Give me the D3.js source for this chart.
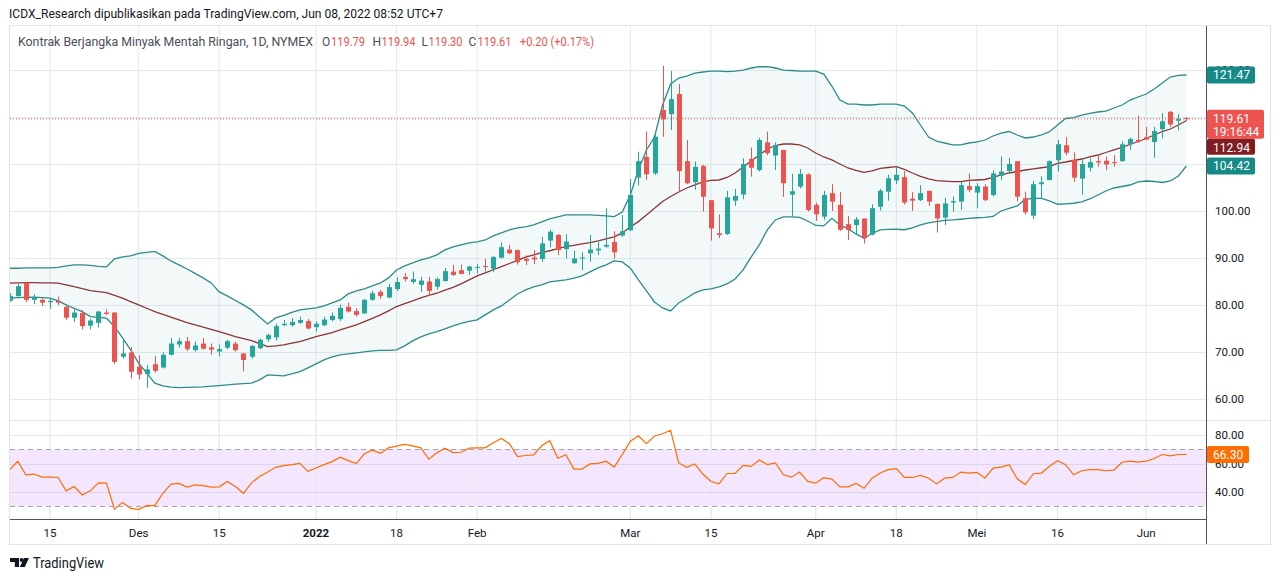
<!DOCTYPE html>
<html>
<head>
<meta charset="utf-8">
<script src="https://cdn.jsdelivr.net/npm/d3@7"></script>
<style>
  body { margin: 0; background: #ffffff; }
  svg { display: block; font-family: Roboto, "Trebuchet MS", sans-serif; }
</style>
</head>
<body>
<div id="chart"></div>
<script>
// Trading days shown on the chart (CL1!, daily)
const dates = [
  "2021-11-08","2021-11-09","2021-11-10","2021-11-11","2021-11-12","2021-11-15","2021-11-16","2021-11-17","2021-11-18","2021-11-19",
  "2021-11-22","2021-11-23","2021-11-24","2021-11-26","2021-11-29","2021-11-30",
  "2021-12-01","2021-12-02","2021-12-03","2021-12-06","2021-12-07","2021-12-08","2021-12-09","2021-12-10","2021-12-13","2021-12-14",
  "2021-12-15","2021-12-16","2021-12-17","2021-12-20","2021-12-21","2021-12-22","2021-12-23","2021-12-27","2021-12-28","2021-12-29",
  "2021-12-30","2021-12-31",
  "2022-01-03","2022-01-04","2022-01-05","2022-01-06","2022-01-07","2022-01-10","2022-01-11","2022-01-12","2022-01-13","2022-01-14",
  "2022-01-18","2022-01-19","2022-01-20","2022-01-21","2022-01-24","2022-01-25","2022-01-26","2022-01-27","2022-01-28","2022-01-31",
  "2022-02-01","2022-02-02","2022-02-03","2022-02-04","2022-02-07","2022-02-08","2022-02-09","2022-02-10","2022-02-11","2022-02-14",
  "2022-02-15","2022-02-16","2022-02-17","2022-02-18","2022-02-22","2022-02-23","2022-02-24","2022-02-25","2022-02-28",
  "2022-03-01","2022-03-02","2022-03-03","2022-03-04","2022-03-07","2022-03-08","2022-03-09","2022-03-10","2022-03-11","2022-03-14",
  "2022-03-15","2022-03-16","2022-03-17","2022-03-18","2022-03-21","2022-03-22","2022-03-23","2022-03-24","2022-03-25","2022-03-28",
  "2022-03-29","2022-03-30","2022-03-31",
  "2022-04-01","2022-04-04","2022-04-05","2022-04-06","2022-04-07","2022-04-08","2022-04-11","2022-04-12","2022-04-13","2022-04-14",
  "2022-04-18","2022-04-19","2022-04-20","2022-04-21","2022-04-22","2022-04-25","2022-04-26","2022-04-27","2022-04-28","2022-04-29",
  "2022-05-02","2022-05-03","2022-05-04","2022-05-05","2022-05-06","2022-05-09","2022-05-10","2022-05-11","2022-05-12","2022-05-13",
  "2022-05-16","2022-05-17","2022-05-18","2022-05-19","2022-05-20","2022-05-23","2022-05-24","2022-05-25","2022-05-26","2022-05-27",
  "2022-05-31","2022-06-01","2022-06-02","2022-06-03","2022-06-06","2022-06-07","2022-06-08"
];

const open = [
  80.9,81.9,84.75,81.1,81.1,80.6,80.85,79.6,77.3,78.3, 75.6,76.2,78.4,78.4,69.0,69.9,66.9,65.3,67.4,66.7,
  69.4,71.6,72.3,70.4,71.8,71.0,70.1,70.9,71.8,69.7, 69.0,70.8,72.7,73.1,75.7,75.7,76.2,76.6,75.3,75.7,
  76.8,77.0,79.6,78.7,78.2,81.1,82.8,81.6,83.4,85.96, 84.9,84.3,85.0,83.9,85.1,87.1,87.4,87.3,88.0,88.3,
  87.7,90.07,91.8,91.7,89.8,90.1,89.8,93.7,94.9,91.9, 88.9,89.9,91.0,91.6,92.4,93.4,94.8,95.9,107.1,111.5,
  108.0,121.5,120.6,124.9,110.6,106.1,109.6,102.3,95.25,95.1, 102.2,103.5,111.1,108.7,114.6,111.8,113.0,103.5,105.2,107.8,
  101.3,98.8,103.8,101.3,97.2,97.0,98.4,95.0,100.9,104.1, 106.5,107.2,102.6,102.3,104.3,101.5,98.6,101.8,102.0,105.3,
  103.9,105.2,103.4,107.5,108.5,110.6,102.7,99.0,105.7,106.6, 110.8,114.0,110.9,106.9,109.2,110.6,110.7,110.4,110.6,114.2,
  115.1,115.7,114.7,117.4,121.1,119.2,119.79
];
const high = [
  82.5,84.6,84.9,82.3,81.4,81.4,81.8,79.8,79.1,78.9, 77.1,78.8,79.1,78.5,72.7,71.1,69.3,67.2,69.2,69.9,
  73.0,73.0,73.2,72.2,73.0,71.8,71.6,72.6,72.2,69.8, 71.5,72.8,73.9,76.0,76.8,77.2,77.5,77.0,76.5,77.5,
  78.4,80.1,80.5,79.3,81.3,83.0,83.2,84.5,85.9,86.8, 87.1,86.0,86.0,85.9,87.9,88.5,88.6,88.3,88.7,89.8,
  90.4,93.3,92.8,91.8,90.6,91.7,94.5,95.96,95.1,95.1, 91.6,91.2,94.9,93.8,100.6,95.7,99.1,106.8,112.6,116.9,
  116.2,130.9,129.8,127.0,115.1,110.5,109.8,102.3,99.3,104.3, 104.7,111.2,113.5,115.6,116.9,114.6,113.0,107.9,108.9,108.0,
  101.8,104.3,105.7,104.0,98.9,98.7,98.4,101.4,104.7,107.7, 109.4,108.5,104.0,105.5,104.3,101.6,102.8,103.1,106.2,108.0,
  105.9,105.7,108.7,111.6,111.3,110.6,104.1,106.4,107.4,110.8, 115.1,115.7,112.5,111.2,111.2,112.1,111.6,111.9,114.8,115.6,
  120.3,117.9,117.9,120.8,121.3,120.6,119.94
];
const low = [
  80.7,81.8,80.6,80.2,79.8,79.2,80.0,76.8,76.4,74.8, 74.8,75.2,77.9,67.4,68.6,64.4,64.2,62.4,65.6,66.5,
  69.3,70.9,70.2,70.1,70.5,69.4,69.1,70.6,70.1,65.9, 68.6,70.6,72.2,72.4,75.5,75.4,76.0,74.8,74.3,75.5,
  76.5,76.6,78.4,77.5,78.1,80.9,81.3,81.4,83.0,85.0, 84.5,82.8,82.0,83.3,85.0,86.2,86.5,86.4,86.7,87.1,
  87.0,89.9,90.8,88.6,88.5,88.7,89.2,92.3,90.6,89.9, 88.7,87.4,89.2,90.6,92.2,89.9,94.5,95.7,105.4,106.6,
  107.7,115.8,117.2,104.1,105.7,104.5,99.9,93.7,94.2,94.9, 101.1,102.5,107.3,108.4,111.9,108.7,103.0,98.8,104.8,99.9,
  97.9,98.1,100.0,95.8,93.8,95.0,93.1,94.8,100.1,102.2, 105.7,101.4,100.0,102.1,101.1,95.4,97.0,99.9,100.2,104.0,
  100.6,102.1,103.1,106.6,108.0,102.1,99.2,98.3,102.7,106.5, 108.4,111.9,106.2,103.5,108.4,109.4,108.7,109.4,110.5,113.0,
  114.5,115.1,111.3,115.5,117.9,117.2,119.30
];
const close = [
  81.9,84.0,81.1,81.6,80.5,80.9,80.5,77.3,78.4,75.5, 76.7,78.6,78.1,67.9,69.7,65.8,65.2,66.3,66.0,69.4,
  71.8,72.3,70.6,71.4,70.7,70.5,70.6,72.3,70.4,68.3, 71.3,72.6,73.6,75.5,76.0,76.4,76.8,75.0,76.0,76.9,
  77.7,79.4,78.6,77.9,81.1,82.5,81.9,83.8,84.9,85.5, 85.5,85.2,83.0,85.5,87.2,86.4,86.6,88.2,88.1,88.1,
  90.2,92.3,91.0,89.1,89.4,89.7,93.1,95.6,91.7,93.5, 89.9,90.1,91.8,92.0,92.8,91.2,95.7,103.4,110.6,107.8,
  115.8,119.5,123.8,108.5,105.9,109.4,103.05,96.3,94.9,102.9, 103.2,110.0,109.2,115.1,112.3,114.0,105.9,104.2,107.9,100.2,
  99.3,103.4,102.0,96.0,96.0,98.2,94.2,100.6,104.3,106.96, 107.7,101.8,102.2,103.8,102.0,98.4,101.6,102.1,105.5,104.5,
  105.3,102.3,108.0,108.4,110.0,103.05,99.7,105.7,106.1,110.6, 114.2,112.4,107.1,110.0,110.4,110.3,109.9,110.3,114.2,115.3,
  114.8,115.2,117.0,119.1,118.4,119.6,119.61
];

// Bollinger Bands (20, 2) as plotted, on the indicator's own scale
const bbUpper = [
  85.26,85.26,85.32,85.32,85.32,85.32,85.42,85.70,85.89,85.89, 85.79,85.60,85.51,87.01,87.38,87.57,88.04,88.23,88.41,87.57,
  86.63,85.89,85.13,84.29,83.45,82.51,80.83,80.08,79.23,78.39, 77.46,76.15,74.83,75.96,76.43,76.99,77.46,77.64,77.83,78.20,
  78.77,79.33,80.45,81.01,81.39,81.95,82.51,83.45,84.95,85.70, 86.26,86.82,87.19,87.76,88.69,89.25,89.63,90.00,90.19,90.56,
  91.31,91.88,92.44,92.81,93.00,93.37,93.94,94.50,94.87,95.25, 95.25,95.25,95.25,95.15,95.06,94.93,95.81,99.00,103.67,107.42,
  109.85,115.85,119.78,120.90,121.28,121.84,122.03,122.21,122.21,122.12, 122.21,122.40,122.78,123.02,123.02,122.78,122.40,122.31,122.21,122.21,
  122.21,121.65,119.40,116.78,116.03,116.03,115.85,115.85,116.03,116.03, 116.03,115.66,114.35,112.10,109.85,109.10,108.73,108.36,108.36,108.73,
  108.92,109.29,110.04,110.60,110.88,110.23,109.67,109.85,110.23,110.85, 112.10,113.32,113.47,113.97,114.29,114.54,114.72,115.29,115.85,116.78,
  117.35,117.91,118.84,119.97,121.09,121.40,121.47
];
const bbBasis = [
  82.46,82.51,82.57,82.57,82.51,82.51,82.46,82.14,81.82,81.45, 81.07,80.88,80.70,80.17,79.65,79.01,78.39,77.77,77.14,76.61,
  76.09,75.58,75.08,74.65,74.22,73.81,73.39,72.93,72.46,72.08, 71.71,71.15,70.58,70.71,70.90,71.22,71.52,71.99,72.46,72.83,
  73.21,73.71,74.18,74.65,75.27,75.88,76.52,77.27,78.09,78.64, 79.14,79.70,80.17,80.58,81.15,81.69,82.33,83.07,83.82,84.40,
  84.98,85.57,86.15,86.73,87.33,87.76,88.19,88.54,88.92,89.31, 89.55,89.82,90.08,90.38,90.75,91.13,91.88,93.00,94.00,95.25,
  96.50,97.78,98.71,99.55,100.30,100.87,101.43,101.71,101.80,102.27, 103.11,104.24,105.36,106.48,107.61,108.26,108.54,108.54,108.36,107.79,
  106.86,106.11,105.55,104.80,104.05,103.58,103.24,103.49,103.99,104.14, 104.29,103.77,103.11,102.49,101.99,101.67,101.58,101.48,101.48,101.71,
  101.80,101.89,102.27,102.74,103.11,103.39,103.67,103.90,104.09,104.29, 104.93,105.17,105.45,105.73,106.11,106.48,106.95,107.42,107.89,108.45,
  109.01,109.57,110.23,110.88,111.35,112.10,112.94
];
const bbLower = [
  79.65,79.74,79.80,79.83,79.74,79.65,79.14,78.39,77.74,77.14, 76.20,76.05,75.90,74.33,72.21,69.96,67.47,65.60,63.73,63.22,
  62.98,62.90,62.94,62.98,63.04,63.17,63.28,63.41,63.54,63.64, 63.73,64.35,65.29,65.19,65.10,65.47,65.90,66.59,67.34,68.09,
  68.65,69.03,69.22,69.40,69.59,69.78,69.87,69.87,69.96,70.71, 71.65,72.40,72.96,73.39,73.90,74.46,74.93,75.30,75.58,76.52,
  77.46,78.20,79.33,80.45,81.20,81.76,82.14,82.70,82.89,83.07, 83.39,83.82,84.57,85.32,85.89,86.63,86.45,85.27,83.07,81.01,
  78.95,77.83,77.27,78.77,79.70,80.64,81.20,81.39,81.76,82.33, 83.26,84.95,87.38,89.63,92.44,94.31,94.87,94.87,94.78,94.12,
  93.28,93.19,94.63,93.38,92.63,91.69,90.89,91.78,92.44,92.53, 92.57,92.48,92.81,93.38,93.75,93.99,94.22,94.31,94.44,94.59,
  94.72,94.78,94.97,95.99,96.46,96.93,98.15,98.37,98.34,97.87, 97.25,97.34,97.44,97.68,98.24,98.99,99.74,100.30,100.58,100.86,
  101.43,101.61,101.52,101.33,101.61,102.55,104.42
];

// RSI (14)
const rsi = [
  55.7,61.6,52.1,52.6,50.4,50.4,50.2,40.8,43.8,37.9, 40.8,46.4,46.2,28.0,32.7,28.5,27.8,30.4,30.4,39.1,
  45.5,46.0,43.4,45.0,44.5,43.4,43.6,47.4,43.8,39.1, 46.4,50.9,54.0,57.3,58.5,59.2,60.1,54.5,56.8,59.2,
  61.3,64.4,62.0,59.9,66.8,69.4,67.2,71.0,72.2,73.4, 72.4,71.0,63.0,67.5,70.8,67.7,67.9,70.8,71.0,71.0,
  74.6,77.6,73.9,64.9,65.6,66.1,72.4,76.0,63.7,66.1, 56.1,56.1,59.7,60.1,61.6,57.5,66.3,75.7,79.5,73.9,
  79.3,80.9,83.3,60.4,57.3,59.7,52.6,47.4,45.7,53.0, 53.0,58.7,58.0,62.5,59.2,60.4,52.1,50.4,54.0,47.4,
  46.2,50.0,49.0,43.6,43.6,46.0,42.6,49.7,53.3,55.7, 56.4,50.2,50.2,51.6,49.7,45.7,49.7,50.2,54.0,53.3,
  53.8,49.7,56.8,57.5,59.2,49.3,45.2,52.8,53.3,58.0, 62.0,59.2,52.1,54.9,55.7,55.7,54.9,55.4,60.9,61.6,
  60.9,61.6,63.5,66.3,65.3,66.3,66.3
];

// Time axis ticks
const tickDates = ["2021-11-15","2021-12-01","2021-12-15","2022-01-03","2022-01-18","2022-02-01",
                   "2022-03-01","2022-03-15","2022-04-01","2022-04-18","2022-05-02","2022-05-16","2022-06-01"];
const tickLabels = ["15","Des","15","2022","18","Feb","Mar","15","Apr","18","Mei","16","Jun"];
const priceTicks = [60, 70, 80, 90, 100, 110, 120, 130];
const rsiTicks = [40, 60, 80];
const rsiBands = [30, 70];

// Layout
const width = 1280, height = 581;
const paneL = 10, paneR = 1206, axisR = 1270;
const priceTop = 26, priceBot = 420, rsiTop = 421, rsiBot = 519, frameBot = 544;

const UP = "#26a69a", DOWN = "#ef5350", GRID = "#e4eaf0", TEXT = "#131722", LEG = "#4a4e59";

const svg = d3.select("#chart")
    .append("svg")
    .attr("width", width)
    .attr("height", height);

svg.append("rect").attr("width", width).attr("height", height).attr("fill", "#ffffff");

// Scales
const x = d3.scaleBand().domain(dates).range([5.67, 5.67 + 8.06 * dates.length]).padding(0);
const xc = d => x(d) + x.bandwidth() / 2;
const y = d3.scaleLinear().domain([60, 130]).range([399, 70]);
const yBB = d3.scaleLinear().domain([104.42, 121.47]).range([166, 75]);
const yR = d3.scaleLinear().domain([40, 80]).range([492, 435]);

// Clips
const defs = svg.append("defs");
defs.append("clipPath").attr("id", "clipPrice").append("rect")
    .attr("x", paneL).attr("y", priceTop).attr("width", paneR - paneL).attr("height", priceBot - priceTop);
defs.append("clipPath").attr("id", "clipRsi").append("rect")
    .attr("x", paneL).attr("y", rsiTop).attr("width", paneR - paneL).attr("height", rsiBot - rsiTop);

// Grid lines
const grid = svg.append("g");
grid.selectAll("line.v").data(tickDates).enter().append("line")
    .attr("x1", d => xc(d)).attr("x2", d => xc(d))
    .attr("y1", priceTop).attr("y2", rsiBot)
    .attr("stroke", GRID).attr("stroke-width", 1);
grid.selectAll("line.h").data(priceTicks).enter().append("line")
    .attr("x1", paneL).attr("x2", paneR)
    .attr("y1", d => Math.round(y(d)) + 0.5).attr("y2", d => Math.round(y(d)) + 0.5)
    .attr("stroke", GRID);

// Price pane
const price = svg.append("g").attr("clip-path", "url(#clipPrice)");
const idx = d3.range(dates.length);

price.append("path")
    .datum(idx)
    .attr("fill", "rgba(38,150,140,0.06)")
    .attr("d", d3.area().x(i => xc(dates[i])).y0(i => yBB(bbLower[i])).y1(i => yBB(bbUpper[i])));

const bbLine = arr => d3.line().x(i => xc(dates[i])).y(i => yBB(arr[i]));
price.append("path").datum(idx).attr("d", bbLine(bbUpper))
    .attr("fill", "none").attr("stroke", "#2b8c89").attr("stroke-width", 1.3);
price.append("path").datum(idx).attr("d", bbLine(bbLower))
    .attr("fill", "none").attr("stroke", "#2b8c89").attr("stroke-width", 1.3);
price.append("path").datum(idx).attr("d", bbLine(bbBasis))
    .attr("fill", "none").attr("stroke", "#8d3535").attr("stroke-width", 1.3);

// Candles
const candles = price.selectAll("g.candle").data(idx).enter().append("g");
candles.append("line")
    .attr("x1", i => Math.round(xc(dates[i])) + 0.5).attr("x2", i => Math.round(xc(dates[i])) + 0.5)
    .attr("y1", i => y(high[i])).attr("y2", i => y(low[i]))
    .attr("stroke", i => close[i] >= open[i] ? UP : DOWN).attr("stroke-width", 1);
candles.append("rect")
    .attr("x", i => Math.round(xc(dates[i])) - 2)
    .attr("width", 5)
    .attr("y", i => y(Math.max(open[i], close[i])))
    .attr("height", i => Math.max(1, Math.abs(y(open[i]) - y(close[i]))))
    .attr("fill", i => close[i] >= open[i] ? UP : DOWN);

// Last price line
const last = close.length - 1;
price.append("line")
    .attr("x1", paneL).attr("x2", paneR)
    .attr("y1", y(close[last])).attr("y2", y(close[last]))
    .attr("stroke", DOWN).attr("stroke-width", 1).attr("stroke-dasharray", "1,2");

// RSI pane
const rsiG = svg.append("g").attr("clip-path", "url(#clipRsi)");
rsiG.append("rect")
    .attr("x", paneL).attr("width", paneR - paneL)
    .attr("y", yR(rsiBands[1])).attr("height", yR(rsiBands[0]) - yR(rsiBands[1]))
    .attr("fill", "#f3e6fd");
rsiG.selectAll("line.rv").data(tickDates).enter().append("line")
    .attr("x1", d => xc(d)).attr("x2", d => xc(d))
    .attr("y1", rsiTop).attr("y2", rsiBot)
    .attr("stroke", GRID);
rsiG.selectAll("line.rg").data(rsiTicks).enter().append("line")
    .attr("x1", paneL).attr("x2", paneR)
    .attr("y1", d => Math.round(yR(d)) + 0.5).attr("y2", d => Math.round(yR(d)) + 0.5)
    .attr("stroke", d => d === 80 ? GRID : "#dcd3ec");
rsiG.selectAll("line.rb").data(rsiBands).enter().append("line")
    .attr("x1", paneL).attr("x2", paneR)
    .attr("y1", d => Math.round(yR(d)) + 0.5).attr("y2", d => Math.round(yR(d)) + 0.5)
    .attr("stroke", "#a3a6af").attr("stroke-dasharray", "5,4");
rsiG.append("path").datum(idx)
    .attr("d", d3.line().x(i => xc(dates[i])).y(i => yR(rsi[i])))
    .attr("fill", "none").attr("stroke", "#ff6d00").attr("stroke-width", 1.2);

// Frame and separators
svg.append("rect")
    .attr("x", 9.5).attr("y", priceTop - 0.5).attr("width", axisR - 9).attr("height", frameBot - priceTop + 1)
    .attr("fill", "none").attr("stroke", "#e0e3eb");
svg.append("line").attr("x1", paneL).attr("x2", axisR).attr("y1", priceBot + 0.5).attr("y2", priceBot + 0.5)
    .attr("stroke", "#e0e3eb");
svg.append("line").attr("x1", paneL).attr("x2", paneR).attr("y1", rsiBot + 0.5).attr("y2", rsiBot + 0.5)
    .attr("stroke", "#50535e");
svg.append("line").attr("x1", paneR + 0.5).attr("x2", paneR + 0.5).attr("y1", priceTop).attr("y2", frameBot)
    .attr("stroke", "#50535e");

// Value labels on the axis (boxes first, so tick labels hidden behind them can be skipped)
const lastY = y(close[last]);
const boxes = [
  { top: yBB(bbUpper[last]) - 8.5, h: 17, w: 48, color: "#158a87", text: [bbUpper[last].toFixed(2)] },
  { top: lastY - 9, h: 29, w: 57, color: DOWN, text: [close[last].toFixed(2), "19:16:44"] },
  { top: Math.max(yBB(bbBasis[last]) - 8.5, lastY + 20), h: 16, w: 48, color: "#801c22", text: [bbBasis[last].toFixed(2)] },
  { top: yBB(bbLower[last]) - 8.5, h: 17, w: 48, color: "#158a87", text: [bbLower[last].toFixed(2)] },
  { top: yR(rsi[last]) - 8.5, h: 17, w: 42, color: "#ff6d00", text: [rsi[last].toFixed(2)] }
];
// a tick label is hidden when a box covers both its centre and its top edge
const covered = yy => boxes.some(b => yy >= b.top && yy <= b.top + b.h && yy - 6 >= b.top);

svg.selectAll("text.pt").data(priceTicks.filter(d => !covered(y(d)))).enter().append("text")
    .attr("x", 1215).attr("y", d => y(d)).attr("dy", "0.35em")
    .attr("font-size", 11.5).attr("fill", TEXT)
    .text(d => d.toFixed(2));

svg.selectAll("text.rt").data(rsiTicks.filter(d => !covered(yR(d)))).enter().append("text")
    .attr("x", 1215).attr("y", d => yR(d)).attr("dy", "0.35em")
    .attr("font-size", 11.5).attr("fill", TEXT)
    .text(d => d.toFixed(2));

boxes.forEach(b => {
  const g = svg.append("g");
  g.append("rect").attr("x", paneR + 1).attr("y", b.top).attr("width", b.w).attr("height", b.h)
      .attr("rx", 2).attr("fill", b.color);
  b.text.forEach((t, k) => {
    g.append("text").attr("x", 1213).attr("y", b.top + 8.5 + k * 13).attr("dy", "0.35em")
        .attr("font-size", 12).attr("fill", "#ffffff").text(t);
  });
});

// Time axis labels
svg.selectAll("text.tt").data(tickDates).enter().append("text")
    .attr("x", d => xc(d)).attr("y", 532.5).attr("dy", "0.35em")
    .attr("text-anchor", "middle").attr("font-size", 11.5).attr("fill", TEXT)
    .attr("font-weight", (d, k) => tickLabels[k] === "2022" ? "bold" : "normal")
    .text((d, k) => tickLabels[k]);

// Header
svg.append("text").attr("x", 9).attr("y", 14).attr("dy", "0.35em")
    .attr("font-size", 12.5).attr("fill", TEXT)
    .attr("textLength", 434).attr("lengthAdjust", "spacingAndGlyphs")
    .text("ICDX_Research dipublikasikan pada TradingView.com, Jun 08, 2022 08:52 UTC+7");

// Legend
const legend = svg.append("g").attr("font-size", 12);
legend.append("text").attr("x", 18).attr("y", 42).attr("dy", "0.35em").attr("fill", LEG)
    .attr("textLength", 295).attr("lengthAdjust", "spacingAndGlyphs")
    .text("Kontrak Berjangka Minyak Mentah Ringan, 1D, NYMEX");
const ohlcKeys = ["O", "H", "L", "C"];
const ohlcVals = [open[last], high[last], low[last], close[last]];
const ohlcKeyX = [322, 372.5, 421.5, 468.5];
ohlcKeys.forEach((k, j) => {
  legend.append("text").attr("x", ohlcKeyX[j]).attr("y", 42).attr("dy", "0.35em")
      .attr("fill", LEG).text(k);
  legend.append("text").attr("x", ohlcKeyX[j] + (k === "L" ? 7 : 9)).attr("y", 42).attr("dy", "0.35em")
      .attr("fill", DOWN).attr("textLength", 34).attr("lengthAdjust", "spacingAndGlyphs")
      .text(ohlcVals[j].toFixed(2));
});
legend.append("text").attr("x", 520).attr("y", 42).attr("dy", "0.35em").attr("fill", DOWN)
    .attr("textLength", 74).attr("lengthAdjust", "spacingAndGlyphs")
    .text("+0.20 (+0.17%)");

// TradingView mark
const logo = svg.append("g").attr("fill", TEXT);
logo.append("path").attr("d", "M10,558 h9 v9 h-4.2 v-5 h-4.8 z");
logo.append("circle").attr("cx", 21.6).attr("cy", 560).attr("r", 2);
logo.append("path").attr("d", "M24,558 h5 l-4.2,9 h-5 z");
svg.append("text").attr("x", 33).attr("y", 563).attr("dy", "0.35em")
    .attr("font-size", 14).attr("fill", TEXT)
    .attr("textLength", 71).attr("lengthAdjust", "spacingAndGlyphs")
    .text("TradingView");
</script>
</body>
</html>
